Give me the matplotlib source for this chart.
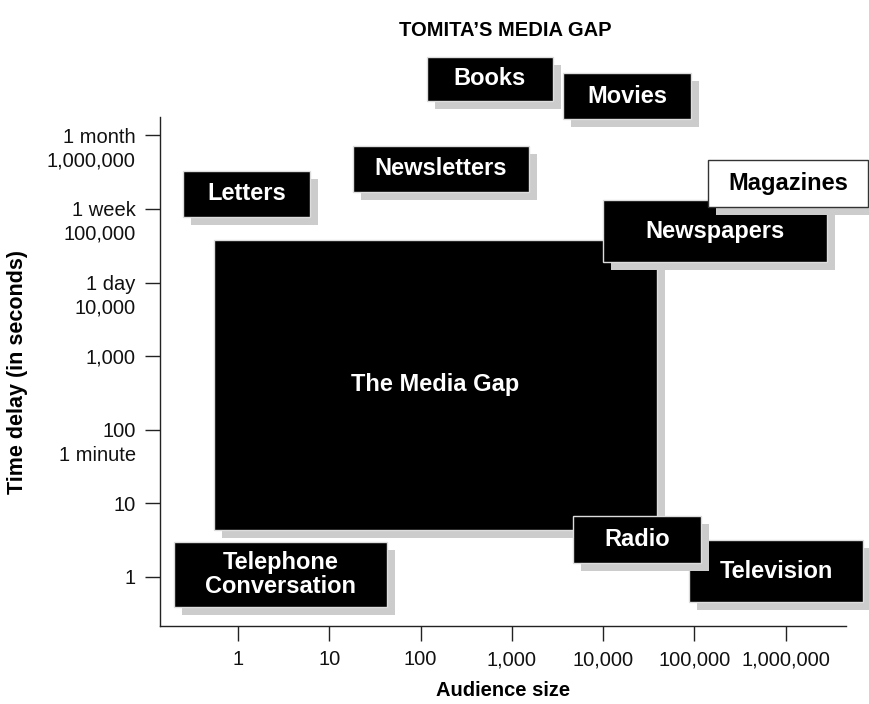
import matplotlib
matplotlib.use('Agg')
import matplotlib.pyplot as plt
from matplotlib.patches import Rectangle
from matplotlib.transforms import ScaledTranslation
from matplotlib.ticker import NullLocator

plt.rcParams['font.family'] = ['Liberation Sans', 'DejaVu Sans']

# ---- data ----
x_ticks = [1, 10, 100, 1000, 10000, 100000, 1000000]
x_tick_labels = ['1', '10', '100', '1,000', '10,000', '100,000', '1,000,000']
y_ticks = [1, 10, 100, 1000, 10000, 100000, 1000000]
y_tick_labels = ['1', '10', '100\n1 minute', '1,000', '1 day\n10,000',
                 '1 week\n100,000', '1 month\n1,000,000']

media = ['The Media Gap', 'Letters', 'Newsletters', 'Books', 'Movies',
         'Newspapers', 'Magazines', 'Telephone\nConversation', 'Television', 'Radio']
# extents as log10 of audience size / time delay (seconds)
aud_lo_log = [-0.26, -0.60, 1.26, 2.07, 3.56, 4.00, 5.15, -0.70, 4.94, 3.67]
aud_hi_log = [4.59, 0.79, 3.19, 3.45, 4.96, 6.45, 6.90, 1.63, 6.85, 5.07]
delay_lo_log = [0.64, 4.89, 5.23, 6.47, 6.22, 4.28, 5.03, -0.41, -0.34, 0.19]
delay_hi_log = [4.58, 5.52, 5.86, 7.07, 6.85, 5.12, 5.67, 0.48, 0.50, 0.83]
highlight = ['Magazines']

# ---- figure ----
fig = plt.figure(figsize=(8.7, 7.04), dpi=100)
ax = fig.add_axes([160/870, 1-626/704, 686/870, 509/704])
ax.set_xscale('log')
ax.set_yscale('log')
ax.set_xlim(10**-0.854, 10**6.66)
ax.set_ylim(10**-0.666, 10**6.25)

for s in ['top', 'right']:
    ax.spines[s].set_visible(False)
for s in ['left', 'bottom']:
    ax.spines[s].set_linewidth(1.0)
    ax.spines[s].set_color('#222222')

ax.set_xticks(x_ticks)
ax.set_xticklabels(x_tick_labels)
ax.set_yticks(y_ticks)
ax.set_yticklabels(y_tick_labels)
ax.xaxis.set_minor_locator(NullLocator())
ax.yaxis.set_minor_locator(NullLocator())
ax.tick_params(axis='both', which='major', direction='out', length=10.5,
               width=1.0, color='#222222', labelsize=14.5, labelcolor='#111111')
ax.tick_params(axis='y', pad=7)
ax.tick_params(axis='x', pad=7)

# first line of each y tick label sits on its tick
up = ScaledTranslation(0, 7.5/100, fig.dpi_scale_trans)
for lbl in ax.get_yticklabels():
    lbl.set_va('top')
    lbl.set_linespacing(1.3)
    lbl.set_transform(lbl.get_transform() + up)

shadow_off = ScaledTranslation(8/100, -8/100, fig.dpi_scale_trans)
for name, x0, x1, y0, y1 in zip(media, aud_lo_log, aud_hi_log, delay_lo_log, delay_hi_log):
    xa, xb, ya, yb = 10**x0, 10**x1, 10**y0, 10**y1
    white = name in highlight
    sh = Rectangle((xa, ya), xb - xa, yb - ya, facecolor='#cccccc', edgecolor='none',
                   transform=ax.transData + shadow_off, clip_on=False, zorder=3)
    ax.add_patch(sh)
    r = Rectangle((xa, ya), xb - xa, yb - ya,
                  facecolor='white' if white else 'black',
                  edgecolor='#333333' if white else '#dddddd', linewidth=1.0,
                  clip_on=False, zorder=3)
    ax.add_patch(r)
    xc = 10**((x0 + x1) / 2)
    yc = 10**((y0 + y1) / 2)
    ax.text(xc, yc, name, ha='center', va='center', fontsize=17, fontweight='bold',
            color='black' if white else 'white', zorder=4, clip_on=False,
            linespacing=1.05)

ax.set_xlabel('Audience size', fontsize=14.5, fontweight='bold')
ax.xaxis.set_label_coords(0.5, -0.126)
ax.xaxis.label.set_va('center')
ax.set_ylabel('Time delay (in seconds)', fontsize=15.5, fontweight='bold')
ax.yaxis.set_label_coords(-0.207, 0.5)
ax.yaxis.label.set_va('center')

fig.text(505/870, 1-30/704, "TOMITA\u2019S MEDIA GAP", ha='center', va='center',
         fontsize=14.5, fontweight='bold')

fig.savefig('out.png', dpi=100)
